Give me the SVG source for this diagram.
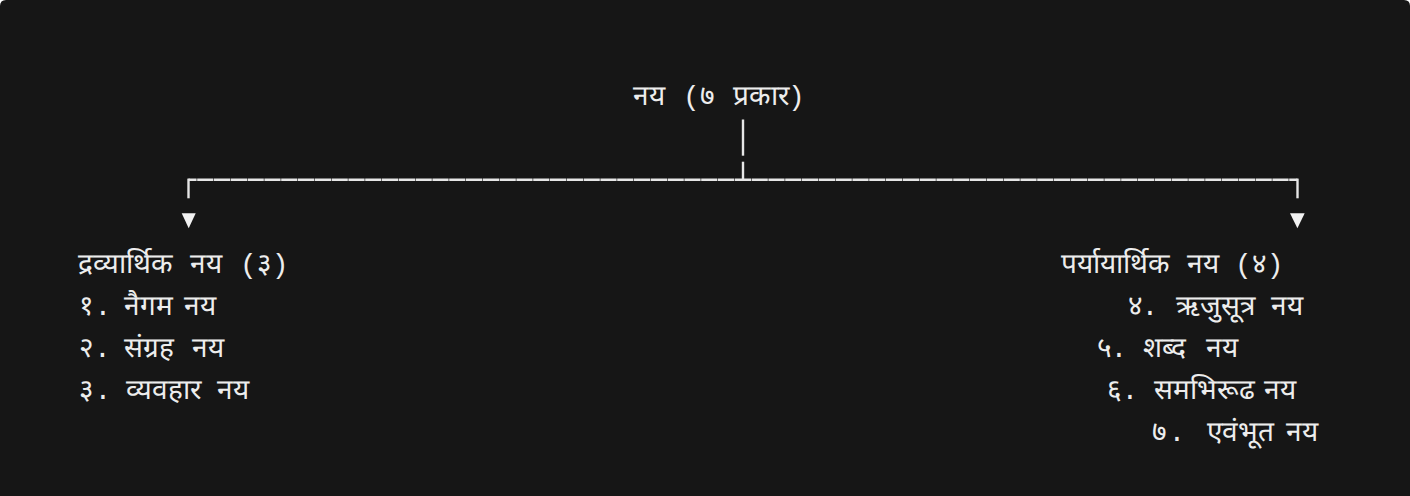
<svg xmlns="http://www.w3.org/2000/svg" width="1410" height="496" viewBox="0 0 1410 496">
<style>
.t{font-family:"Liberation Mono","DejaVu Sans Mono",monospace;font-size:28px;fill:#ededed}
.ln{stroke:#e6e6e6;stroke-width:2.4;fill:none}
.ar{fill:#f2f2f2}
</style>
<rect x="0" y="0" width="1410" height="496" fill="#ffffff"/>
<path d="M0 6 Q0 0 6 0 H1404 Q1410 0 1410 6 V496 H0 Z" fill="#161616"/>
<g id="connectors">
<line class="ln" x1="743" y1="119.5" x2="743" y2="155.7" stroke-width="2.2"/>
<line class="ln" x1="743" y1="161.7" x2="743" y2="179.8" stroke-width="2.2"/>
<line class="ln" x1="188.5" y1="179.8" x2="1297.5" y2="179.8" stroke-dasharray="16.2 0.6" stroke-dashoffset="8.1"/>
<line class="ln" x1="188.5" y1="178.6" x2="188.5" y2="198.3"/>
<line class="ln" x1="1297.5" y1="178.6" x2="1297.5" y2="198.3"/>
<polygon class="ar" points="181.7,213.3 195.7,213.3 188.7,228.2"/>
<polygon class="ar" points="1290,213.3 1304.7,213.3 1297.4,228.2"/>
</g>
<g id="root">
<text class="t" y="105"><tspan x="633">नय</tspan><tspan x="683">(७</tspan><tspan x="733">प्रकार</tspan><tspan x="788">)</tspan></text>
</g>
<g id="dravyarthika">
<text class="t" y="273"><tspan x="78">द्रव्यार्थिक</tspan><tspan x="190">नय</tspan><tspan x="240">(३)</tspan></text>
</g>
<g id="naigama">
<text class="t" y="315"><tspan x="79">१</tspan><tspan x="94.6">.</tspan><tspan x="124">नैगम</tspan><tspan x="184">नय</tspan></text>
</g>
<g id="sangraha">
<text class="t" y="357"><tspan x="79">२</tspan><tspan x="94">.</tspan><tspan x="124">संग्रह</tspan><tspan x="192">नय</tspan></text>
</g>
<g id="vyavahara">
<text class="t" y="399"><tspan x="79">३</tspan><tspan x="94.6">.</tspan><tspan x="126">व्यवहार</tspan><tspan x="217">नय</tspan></text>
</g>
<g id="paryayarthika">
<text class="t" y="273"><tspan x="1061">पर्यायार्थिक</tspan><tspan x="1187">नय</tspan><tspan x="1235">(४)</tspan></text>
</g>
<g id="rijusutra">
<text class="t" y="315"><tspan x="1128">४</tspan><tspan x="1141.6">.</tspan><tspan x="1176">ऋजुसूत्र</tspan><tspan x="1271">नय</tspan></text>
</g>
<g id="shabda">
<text class="t" y="357"><tspan x="1097">५</tspan><tspan x="1110.6">.</tspan><tspan x="1143">शब्द</tspan><tspan x="1206">नय</tspan></text>
</g>
<g id="samabhirudha">
<text class="t" y="399"><tspan x="1107">६</tspan><tspan x="1121.6">.</tspan><tspan x="1154">समभिरूढ</tspan><tspan x="1264">नय</tspan></text>
</g>
<g id="evambhuta">
<text class="t" y="441"><tspan x="1152">७</tspan><tspan x="1168.6">.</tspan><tspan x="1207">एवंभूत</tspan><tspan x="1286">नय</tspan></text>
</g>
</svg>
